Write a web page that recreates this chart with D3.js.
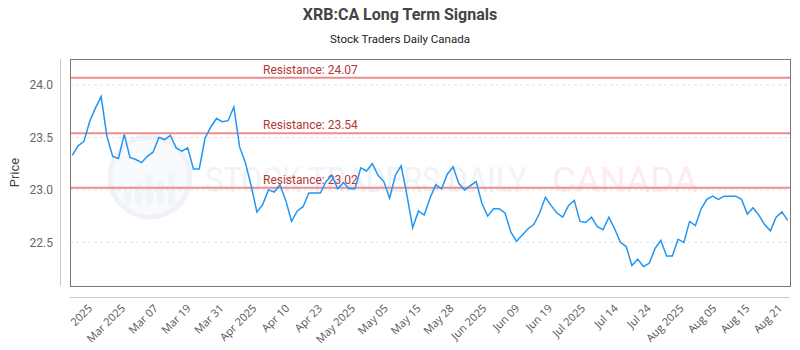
<!DOCTYPE html>
<html>
<head>
<meta charset="utf-8">
<script src="https://cdn.jsdelivr.net/npm/d3@7"></script>
<style>
  body { margin: 0; background: #fff; }
  svg { display: block; }
</style>
</head>
<body>
<svg id="chart"></svg>
<script>
// closing prices, one per trading day
let prices = [
  23.33, 23.42, 23.46, 23.65, 23.78, 23.89, 23.51, 23.32, 23.30, 23.53,
  23.31, 23.29, 23.26, 23.32, 23.36, 23.50, 23.48, 23.52, 23.40, 23.37,
  23.40, 23.20, 23.20, 23.49, 23.60, 23.68, 23.65, 23.66, 23.79, 23.41,
  23.26, 23.04, 22.79, 22.86, 23.00, 22.98, 23.05, 22.90, 22.70, 22.80,
  22.84, 22.97, 22.97, 22.97, 23.08, 23.14, 23.01, 23.07, 23.01, 23.01,
  23.21, 23.18, 23.25, 23.14, 23.08, 22.92, 23.14, 23.23, 22.95, 22.64,
  22.80, 22.76, 22.92, 23.05, 23.01, 23.15, 23.22, 23.06, 23.00, 23.04,
  23.08, 22.87, 22.75, 22.82, 22.82, 22.78, 22.60, 22.51, 22.57, 22.63,
  22.67, 22.78, 22.93, 22.85, 22.78, 22.74, 22.85, 22.90, 22.70, 22.69,
  22.74, 22.65, 22.62, 22.74, 22.63, 22.50, 22.46, 22.28, 22.34, 22.27,
  22.30, 22.44, 22.52, 22.37, 22.37, 22.53, 22.50, 22.70, 22.66, 22.82,
  22.91, 22.94, 22.91, 22.94, 22.94, 22.94, 22.91, 22.77, 22.83, 22.76,
  22.67, 22.61, 22.74, 22.79, 22.71
]

let xLabels = ["2025", "Mar 2025", "Mar 07", "Mar 19", "Mar 31", "Apr 2025", "Apr 10",
  "Apr 23", "May 2025", "May 05", "May 15", "May 28", "Jun 2025", "Jun 09", "Jun 19",
  "Jul 2025", "Jul 14", "Jul 24", "Aug 2025", "Aug 05", "Aug 15", "Aug 21"]

let yTicks = [22.5, 23.0, 23.5, 24.0]

let resistance = [24.07, 23.54, 23.02]

let width = 800, height = 350
let frame = { left: 70, right: 790, top: 59, bottom: 286 }

let svg = d3.select("#chart")
    .attr("width", width)
    .attr("height", height)

let x = d3.scaleLinear()
    .domain([0, prices.length - 1])
    .range([frame.left + 2.3, frame.right - 2.3])

let y = d3.scaleLinear()
    .domain([22.084, 24.248])
    .range([frame.bottom, frame.top])

let xLab = d3.scalePoint()
    .domain(xLabels)
    .range([93, 783])

// title
svg.append("text")
    .attr("x", width / 2)
    .attr("y", 20)
    .attr("text-anchor", "middle")
    .style("font-family", "Roboto, sans-serif")
    .style("font-weight", "bold")
    .style("font-size", "16px")
    .style("fill", "#444")
    .text("XRB:CA Long Term Signals")

svg.append("text")
    .attr("x", width / 2)
    .attr("y", 43)
    .attr("text-anchor", "middle")
    .style("font-family", "Roboto, sans-serif")
    .style("font-size", "11.5px")
    .style("fill", "#222")
    .text("Stock Traders Daily Canada")

// watermark
let wm = svg.append("g").attr("opacity", 0.55)
wm.append("circle")
    .attr("cx", 150).attr("cy", 177).attr("r", 40)
    .attr("fill", "#f3f6fb")
    .attr("stroke", "#e3e9f3")
    .attr("stroke-width", 5)
let bars = [14, 22, 30, 24, 34]
wm.selectAll(".wbar")
    .data(bars)
    .enter().append("rect")
    .attr("class", "wbar")
    .attr("x", (d, i) => 124 + i * 11)
    .attr("y", d => 205 - d)
    .attr("width", 7)
    .attr("height", d => d)
    .attr("fill", "#e6ecf5")
wm.append("text")
    .attr("x", 205)
    .attr("y", 192)
    .attr("textLength", 322)
    .attr("lengthAdjust", "spacingAndGlyphs")
    .style("font-family", "Roboto, sans-serif")
    .style("font-size", "35px")
    .style("fill", "#e4eaf3")
    .text("STOCK TRADERS DAILY")
wm.append("text")
    .attr("x", 552)
    .attr("y", 192)
    .attr("textLength", 146)
    .attr("lengthAdjust", "spacingAndGlyphs")
    .style("font-family", "Roboto, sans-serif")
    .style("font-size", "35px")
    .style("fill", "#fcdede")
    .text("CANADA")

// grid
svg.append("g")
    .selectAll("line")
    .data(yTicks)
    .enter().append("line")
    .attr("x1", frame.left)
    .attr("x2", frame.right)
    .attr("y1", d => y(d))
    .attr("y2", d => y(d))
    .attr("stroke", "#e2e2e2")
    .attr("stroke-dasharray", "3,3")

// outer axis lines
svg.append("line")
    .attr("x1", 60.5).attr("x2", 60.5)
    .attr("y1", frame.top).attr("y2", frame.bottom)
    .attr("stroke", "#c8c8c8")
svg.append("line")
    .attr("x1", frame.left).attr("x2", frame.right)
    .attr("y1", 297.5).attr("y2", 297.5)
    .attr("stroke", "#c8c8c8")

// y axis
let yAxis = svg.append("g")
    .attr("transform", "translate(" + frame.left + ",0)")
    .call(d3.axisLeft(y).tickValues(yTicks).tickSize(0).tickPadding(17).tickFormat(d3.format(".1f")))
yAxis.select(".domain").remove()
yAxis.selectAll("text")
    .style("font-family", "Roboto, sans-serif")
    .style("font-size", "12px")
    .style("fill", "#666")

svg.append("text")
    .attr("transform", "translate(19," + ((frame.top + frame.bottom) / 2) + ") rotate(-90)")
    .attr("text-anchor", "middle")
    .style("font-family", "Roboto, sans-serif")
    .style("font-size", "13px")
    .style("fill", "#444")
    .text("Price")

// x labels
svg.append("g")
    .selectAll("text")
    .data(xLabels)
    .enter().append("text")
    .attr("transform", d => "translate(" + xLab(d) + ",309) rotate(-45)")
    .attr("text-anchor", "end")
    .style("font-family", "'Open Sans', sans-serif")
    .style("font-size", "11px")
    .style("fill", "#555")
    .text(d => d)

// resistance lines
let res = svg.append("g")
res.selectAll("line")
    .data(resistance)
    .enter().append("line")
    .attr("x1", frame.left)
    .attr("x2", frame.right)
    .attr("y1", d => y(d))
    .attr("y2", d => y(d))
    .attr("stroke", "#f08c8c")
    .attr("stroke-width", 2)
res.selectAll("text")
    .data(resistance)
    .enter().append("text")
    .attr("x", 263)
    .attr("y", d => y(d) - 4)
    .style("font-family", "Roboto, sans-serif")
    .style("font-size", "12px")
    .style("fill", "#b03a35")
    .text(d => "Resistance: " + d.toFixed(2))

// price line
let line = d3.line()
    .x((d, i) => x(i))
    .y(d => y(d))

svg.append("path")
    .datum(prices)
    .attr("d", line)
    .attr("fill", "none")
    .attr("stroke", "#2196f3")
    .attr("stroke-width", 1.5)

// frame
svg.append("rect")
    .attr("x", frame.left + 0.5)
    .attr("y", frame.top + 0.5)
    .attr("width", frame.right - frame.left)
    .attr("height", frame.bottom - frame.top)
    .attr("fill", "none")
    .attr("stroke", "#777")
</script>
</body>
</html>
